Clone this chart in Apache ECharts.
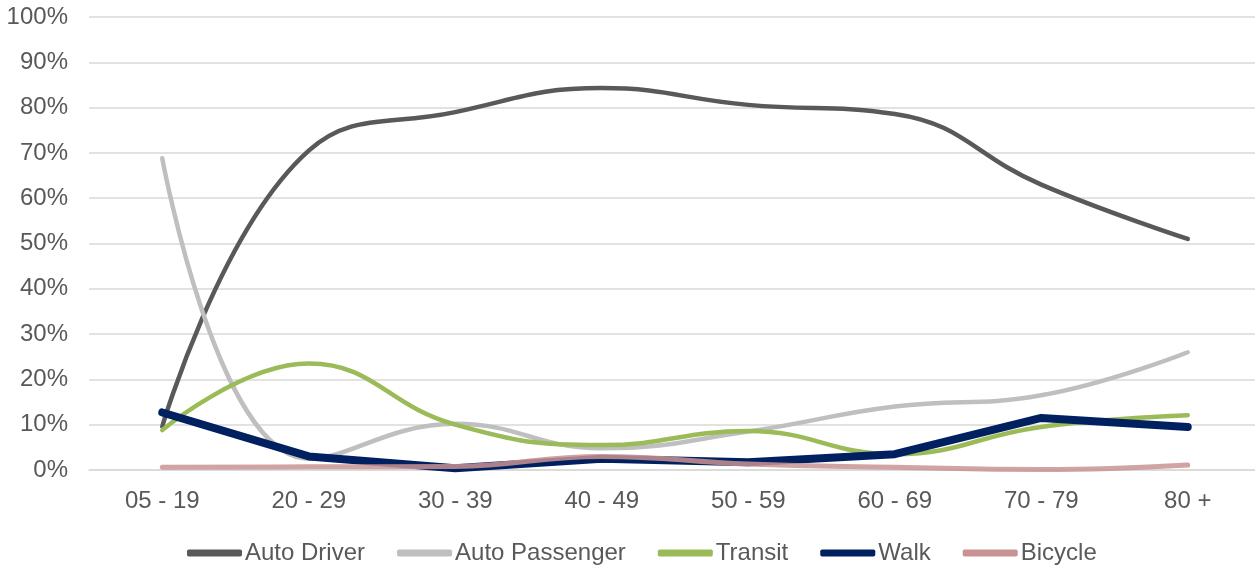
<!DOCTYPE html>
<html><head><meta charset="utf-8">
<script src="https://cdn.jsdelivr.net/npm/echarts@6/dist/echarts.min.js"></script>
<style>html,body{margin:0;padding:0;background:#fff;overflow:hidden}#c{width:1255px;height:565px}</style>
</head><body><div id="c"></div>
<script>
const categories = ['05 - 19','20 - 29','30 - 39','40 - 49','50 - 59','60 - 69','70 - 79','80 +'];
const autoDriver    = [9.6, 70.5, 79, 84.3, 80.6, 78.6, 63, 51];
const autoPassenger = [68.8, 2.5, 10.2, 4.8, 8.5, 14, 16.5, 26];
const transit       = [8.8, 23.5, 10, 5.5, 8.6, 3.5, 9.5, 12.1];
const walk          = [12.7, 3.0, 0.4, 2.5, 1.7, 3.5, 11.5, 9.5];
const bicycle       = [0.6, 0.7, 0.8, 3.0, 1.3, 0.6, 0.1, 1.1];
const seriesNames = ['Auto Driver','Auto Passenger','Transit','Walk','Bicycle'];

const colors = ['#595959','#bfbfbf','#9bbb59','#002060','#c99393'];
const widths = [4.5,4.5,4.5,8,5];
const smooths = [0.45,0.45,0.45,false,0.45];
const datas = [autoDriver, autoPassenger, transit, walk, bicycle];

const FONT = 'Liberation Sans, Arial, sans-serif';
const chart = echarts.init(document.getElementById('c'));
chart.setOption({
  animation:false,
  textStyle:{fontFamily:FONT},
  grid:{left:89,width:1172,top:17,height:453,outerBoundsMode:'none',containLabel:false},
  legend:{
    top:536,left:182,itemGap:32,itemWidth:55,itemHeight:7,
    textStyle:{color:'#595959',fontSize:24,fontFamily:FONT,padding:[0,0,0,-2]},
    data: seriesNames.map((n,i)=>({name:n,icon:'roundRect',itemStyle:{color:colors[i]}}))
  },
  xAxis:{type:'category',data:categories,boundaryGap:true,
    axisLine:{lineStyle:{color:'#d9d9d9',width:1.5}},axisTick:{show:false},
    axisLabel:{color:'#595959',fontSize:24,margin:19}},
  yAxis:{type:'value',min:0,max:100,interval:10,
    axisLabel:{formatter:'{value}%',color:'#595959',fontSize:24,margin:21},
    splitLine:{lineStyle:{color:'#d9d9d9',width:1.5}},axisLine:{show:false},axisTick:{show:false}},
  series: seriesNames.map((n,i)=>({
    name:n,type:'line',data:datas[i],smooth:smooths[i],symbol:'none',
    lineStyle:{color:colors[i],width:widths[i],cap:'round',join:'round',opacity:i===4?0.85:1},
    itemStyle:{color:colors[i]}
  }))
});
</script></body></html>
